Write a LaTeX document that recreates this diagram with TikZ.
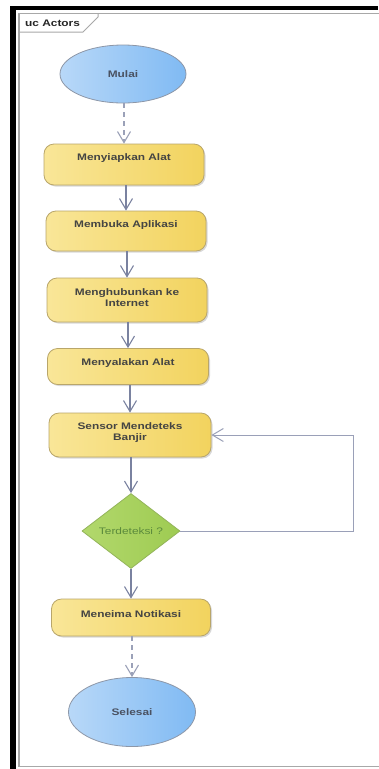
\documentclass[tikz,border=0pt]{standalone}
\usepackage{fontspec}
\setmainfont{Liberation Sans}
\usetikzlibrary{shapes.geometric,arrows.meta,shadows}
\definecolor{yl}{HTML}{F9E698}
\definecolor{yd}{HTML}{F2D35E}
\definecolor{boxborder}{HTML}{B9A66A}
\definecolor{bl}{HTML}{B8D8F8}
\definecolor{bd}{HTML}{80BAF3}
\definecolor{ellborder}{HTML}{8D97A8}
\definecolor{gl}{HTML}{B2D86C}
\definecolor{gd}{HTML}{9ECB52}
\definecolor{gborder}{HTML}{93B45A}
\definecolor{linec}{HTML}{7A82A0}
\definecolor{loopc}{HTML}{9AA0B8}
\definecolor{txtc}{HTML}{454543}
\definecolor{etxt}{HTML}{4A5262}
\definecolor{dtxt}{HTML}{5B8A3C}
\definecolor{framec}{HTML}{A8A8A8}
\newcommand\hs[1]{\scalebox{1.25}[1]{#1}}
\begin{document}
\begin{tikzpicture}[x=1pt,y=-1pt,
  act/.style={draw=boxborder, rounded corners=10, left color=yl, right color=yd, line width=0.8,
    drop shadow={shadow xshift=1.5pt, shadow yshift=-1.5pt, opacity=0.3, fill=gray}},
  txt/.style={font=\fontsize{9.5}{11}\selectfont\bfseries, text=txtc, align=center, inner sep=0},
  term/.style={ellipse, draw=ellborder, left color=bl, right color=bd, line width=0.8, inner sep=0,
    font=\fontsize{9.5}{11}\selectfont\bfseries, text=etxt},
  decision/.style={diamond, draw=gborder, left color=gl, right color=gd, line width=0.8, inner sep=0,
    font=\fontsize{9.5}{11}\selectfont, text=dtxt},
  flow/.style={draw=linec, line width=1.1, -{Straight Barb[length=11pt,width=13pt]}},
  dflow/.style={flow, draw=linec!75, dash pattern=on 5pt off 4pt},
  loopflow/.style={draw=loopc, line width=1, -{Straight Barb[length=11pt,width=13pt]}}
]
\useasboundingbox (0,0) rectangle (378,769);
% outer frame
\fill[black] (10,6) rectangle (378,769);
\fill[white] (16,10) rectangle (378,769);
\draw[framec, line width=1.3] (380,13.5) -- (19,13.5) -- (19,766.5) -- (380,766.5);
\draw[framec, line width=1] (19,32) -- (83,32) -- (98,17) -- (98,13.5);
\node[font=\fontsize{9.5}{11}\selectfont\bfseries, text=black!85, anchor=west, inner sep=0] (title) at (25,23) {\hs{uc Actors}};

% nodes
\node[term, minimum width=126, minimum height=58] (mulai) at (123,74) {\hs{Mulai}};

\node[act, minimum width=160, minimum height=41] (b1) at (124,164.5) {};
\node[txt] (b1t) at (124,158) {\hs{Menyiapkan Alat}};

\node[act, minimum width=160, minimum height=40] (b2) at (126,231) {};
\node[txt] (b2t) at (126,225) {\hs{Membuka Aplikasi}};

\node[act, minimum width=160, minimum height=44] (b3) at (127,300) {};
\node[txt] (b3t) at (127,297.5) {\hs{Menghubunkan ke}\\\hs{Internet}};

\node[act, minimum width=161, minimum height=36] (b4) at (128,366.5) {};
\node[txt] (b4t) at (128,363) {\hs{Menyalakan Alat}};

\node[act, minimum width=162, minimum height=44] (b5) at (130,435) {};
\node[txt] (b5t) at (130,432.5) {\hs{Sensor Mendeteks}\\\hs{Banjir}};

\node[decision, minimum width=98, minimum height=75] (d) at (131,531) {\hs{Terdeteksi ?}};

\node[act, minimum width=159, minimum height=37] (b6) at (131,617.5) {};
\node[txt] (b6t) at (131,614) {\hs{Meneima Notikasi}};

\node[term, minimum width=127, minimum height=69] (selesai) at (132,712) {\hs{Selesai}};

\coordinate (lc) at (353,531);

% connectors
\draw[dflow] (mulai.south -| b1.north) -- (b1.north);
\draw[flow] (b1.south -| b2.north) -- (b2.north);
\draw[flow] (b2.south -| b3.north) -- (b3.north);
\draw[flow] (b3.south -| b4.north) -- (b4.north);
\draw[flow] (b4.south -| b5.north) -- (b5.north);
\draw[flow] (b5.south -| d.north) -- (d.north);
\draw[flow] (d.south) -- (d.south |- b6.north);
\draw[dflow] (b6.south -| selesai.north) -- (selesai.north);
\draw[loopflow] (d.east) -- (lc) |- (b5.east);
\end{tikzpicture}
\end{document}
